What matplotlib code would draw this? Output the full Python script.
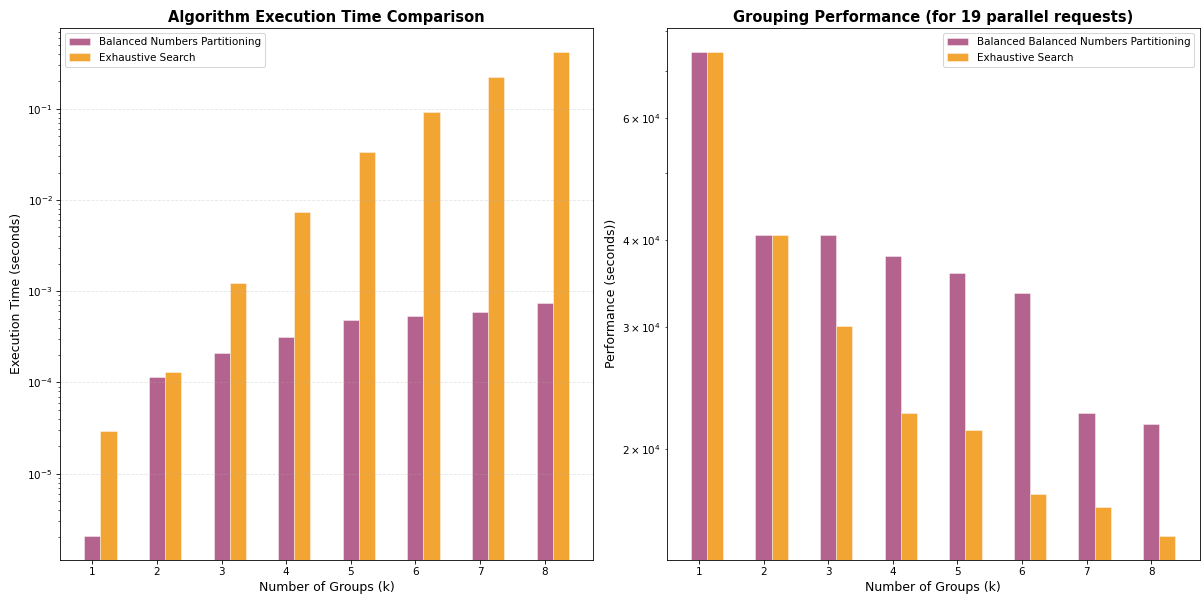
import numpy as np
import matplotlib
matplotlib.use('Agg')
import matplotlib.pyplot as plt

k_values = [1, 2, 3, 4, 5, 6, 7, 8]

# execution time (seconds), log scale
bnp_time = [2.1e-6, 1.16e-4, 2.08e-4, 3.15e-4, 4.8e-4, 5.3e-4, 5.93e-4, 7.38e-4]
exh_time = [2.97e-5, 1.31e-4, 1.24e-3, 7.3e-3, 0.0337, 0.0927, 0.223, 0.417]

# grouping performance (for 19 parallel requests)
bnp_perf = [74600, 40700, 40700, 37900, 35800, 33600, 22500, 21700]
exh_perf = [74600, 40700, 30100, 22500, 21300, 17200, 16500, 15000]

c_bnp = '#A23B72'
c_exh = '#F18F01'
width = 0.25


def main():
    x = np.array(k_values)
    dpi = 75
    fig, (ax1, ax2) = plt.subplots(1, 2, figsize=(1202 / dpi, 597 / dpi), dpi=dpi)

    ax1.bar(x, bnp_time, width, label='Balanced Numbers Partitioning',
            color=c_bnp, alpha=0.8, edgecolor='white', linewidth=0.5)
    ax1.bar(x + width, exh_time, width, label='Exhaustive Search',
            color=c_exh, alpha=0.8, edgecolor='white', linewidth=0.5)
    ax1.set_yscale('log')
    ax1.set_xlabel('Number of Groups (k)', fontsize=12)
    ax1.set_ylabel('Execution Time (seconds)', fontsize=12)
    ax1.set_title('Algorithm Execution Time Comparison', fontweight='bold', fontsize=14)
    ax1.set_xticks(x)
    ax1.legend(loc='upper left')
    ax1.grid(axis='y', alpha=0.3, linestyle='--')

    ax2.bar(x, bnp_perf, width, label='Balanced Balanced Numbers Partitioning',
            color=c_bnp, alpha=0.8, edgecolor='white', linewidth=0.5)
    ax2.bar(x + width, exh_perf, width, label='Exhaustive Search',
            color=c_exh, alpha=0.8, edgecolor='white', linewidth=0.5)
    ax2.set_yscale('log')
    ax2.set_xlabel('Number of Groups (k)', fontsize=12)
    ax2.set_ylabel('Performance (seconds))', fontsize=12)
    ax2.set_title('Grouping Performance (for 19 parallel requests)', fontweight='bold', fontsize=14)
    ax2.set_xticks(x)
    ax2.legend(loc='upper right')
    ax2.grid(axis='y', alpha=0.3, linestyle='--')

    fig.subplots_adjust(left=0.05, right=0.998, top=0.953, bottom=0.0625, wspace=0.138)
    plt.savefig('out.png')
    plt.close()


if __name__ == '__main__':
    main()
